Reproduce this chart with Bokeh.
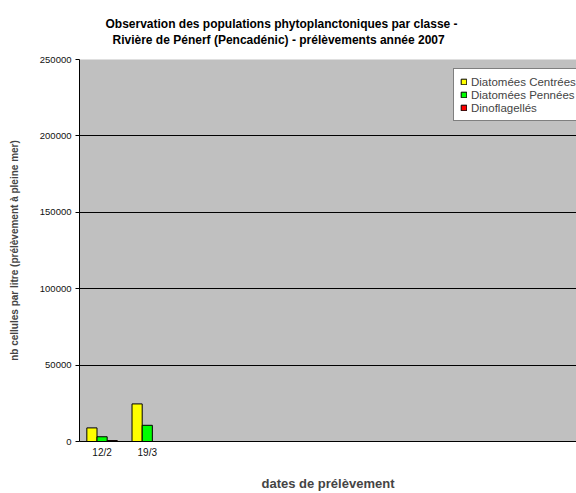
from bokeh.plotting import figure
from bokeh.models import FactorRange, Range1d, FixedTicker, NumeralTickFormatter, Title, ColumnDataSource
from bokeh.transform import dodge
from bokeh.embed import file_html
from bokeh.resources import INLINE

# ---- data ----
dates = ["12/2", "19/3"]
blank_slots = [" " * i for i in range(1, 10)]
centrees = [8900, 24600]
pennees = [3100, 10600]
dinoflagelles = [600, 0]
y_ticks = [0, 50000, 100000, 150000, 200000, 250000]
series_names = ["Diatomées Centrées", "Diatomées Pennées", "Dinoflagellés"]
title_lines = ["Observation des populations phytoplanctoniques par classe -",
               "Rivière de Pénerf (Pencadénic) - prélèvements année 2007"]

FONT = "Liberation Sans"
factors = dates + blank_slots

src = ColumnDataSource(dict(dates=dates, c=centrees, p=pennees, d=dinoflagelles))

p = figure(width=576, height=493, x_range=FactorRange(*factors), y_range=Range1d(0, 250000),
           output_backend="svg", toolbar_location=None,
           min_border_left=79, min_border_right=0, min_border_top=59, min_border_bottom=51)
p.title = None

p.background_fill_color = "#C0C0C0"
p.border_fill_color = "white"
p.outline_line_color = None

# spacer between frame and titles
p.add_layout(Title(text=" ", text_font_size="1px", standoff=10), "above")
# titles (add bottom line first)
title_offsets = [26, 33]
title_standoffs = [0, 0]
for txt, off, so in reversed(list(zip(title_lines, title_offsets, title_standoffs))):
    t = Title(text=txt, align="left", text_font=FONT, text_font_size="12px",
              text_font_style="bold", text_color="black", offset=off, standoff=so)
    p.add_layout(t, "above")

w = 0.225
p.vbar(x=dodge("dates", -0.225, range=p.x_range), top="c", width=w, source=src,
       fill_color="#FFFF00", line_color="black", line_width=1, legend_label=series_names[0])
p.vbar(x=dodge("dates", 0.0, range=p.x_range), top="p", width=w, source=src,
       fill_color="#00FF00", line_color="black", line_width=1, legend_label=series_names[1])
p.vbar(x=dodge("dates", 0.225, range=p.x_range), top="d", width=w, source=src,
       fill_color="#FF0000", line_color="black", line_width=1, legend_label=series_names[2])

# grid
p.xgrid.grid_line_color = None
p.ygrid.grid_line_color = "black"
p.ygrid.grid_line_width = 1
p.yaxis.ticker = FixedTicker(ticks=y_ticks)
p.yaxis.formatter = NumeralTickFormatter(format="0")

# y axis
ya = p.yaxis[0]
ya.axis_line_color = "black"
ya.major_tick_line_color = "black"
ya.major_tick_in = 0
ya.major_tick_out = 4
ya.minor_tick_line_color = None
ya.major_label_standoff = 4
ya.major_label_text_font = FONT
ya.major_label_text_font_size = "9.5px"
ya.major_label_text_color = "#111111"
ya.axis_label = "nb cellules par litre (prélèvement à pleine mer)"
ya.axis_label_text_font = FONT
ya.axis_label_text_font_size = "10px"
ya.axis_label_text_font_style = "bold"
ya.axis_label_standoff = 17

# x axis
xa = p.xaxis[0]
xa.axis_line_color = "black"
xa.major_tick_line_color = None
xa.major_tick_out = 0
xa.major_tick_in = 0
xa.minor_tick_line_color = None
xa.major_label_standoff = 5
xa.major_label_text_font = FONT
xa.major_label_text_font_size = "10px"
xa.major_label_text_color = "#111111"
xa.axis_label = "dates de prélèvement"
xa.axis_label_text_font = FONT
xa.axis_label_text_font_size = "13px"
xa.axis_label_text_font_style = "bold"
xa.axis_label_text_line_height = 0.9
xa.axis_label_standoff = 15

# legend
lg = p.legend[0]
lg.location = (374, 320)
lg.background_fill_color = "white"
lg.background_fill_alpha = 1
lg.border_line_color = "black"
lg.border_line_width = 1
lg.label_text_font = FONT
lg.label_text_font_size = "11.5px"
lg.label_height = 13
lg.glyph_height = 7
lg.glyph_width = 7
lg.label_standoff = 4
lg.spacing = 0
lg.padding = 6
lg.margin = 0

open("out.html", "w").write(file_html(p, INLINE))
